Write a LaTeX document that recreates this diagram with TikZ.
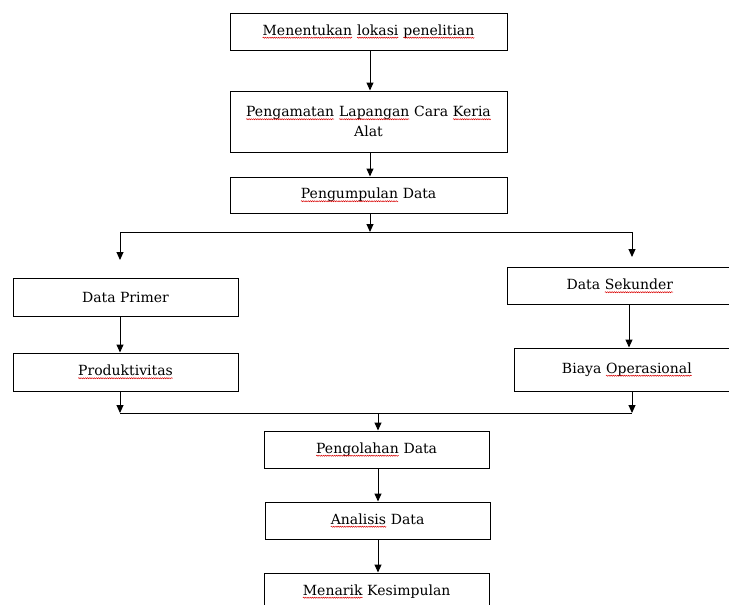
\documentclass[tikz,border=0pt]{standalone}
\usepackage{fontspec}
\setmainfont{DejaVu Serif}
\usetikzlibrary{arrows.meta,decorations.pathmorphing}
\newcommand\squig[1]{\tikz[baseline=(sqw.base)]{\node[draw=none,fill=none,minimum width=0pt,minimum height=0pt,inner sep=0pt,outer sep=0pt,align=left](sqw){#1};\draw[draw=red!85!black,line width=0.5pt,decorate,decoration={snake,amplitude=0.55pt,segment length=2.2pt}]([yshift=-2.6pt]sqw.base west)--([yshift=-2.6pt]sqw.base east);}}
\begin{document}
\begin{tikzpicture}[x=1pt,y=-1pt,
  box/.style={draw=black,line width=1pt,inner sep=0pt,align=center,font=\fontsize{14}{20}\selectfont},
  arr/.style={-{Triangle[length=8pt,width=7pt]},line width=1pt},
  conn/.style={line width=1pt}]
\useasboundingbox (0,0) rectangle (729,605);
\clip (0,0) rectangle (729,605);
\fill[white] (0,0) rectangle (729,605);
% boxes
\node[box,minimum width=277pt,minimum height=37pt] (b1) at (368.5,31.5) {\squig{Menentukan} \squig{lokasi} \squig{penelitian}};
\node[box,minimum width=277pt,minimum height=61pt] (b2) at (368.5,121.5) {\squig{Pengamatan} \squig{Lapangan} Cara \squig{Keria}\\Alat};
\node[box,minimum width=277pt,minimum height=36pt] (b3) at (368.5,195) {\squig{Pengumpulan} Data};
\node[box,minimum width=225pt,minimum height=38pt] (dp) at (125.5,297) {Data Primer};
\node[box,minimum width=225pt,minimum height=38pt] (prod) at (125.5,372) {\squig{Produktivitas}};
\node[box,minimum width=226pt,minimum height=37pt] (ds) at (620,286) {Data \squig{Sekunder}};
\node[box,minimum width=226pt,minimum height=43pt] (bo) at (627,369.5) {Biaya \squig{Operasional}};
\node[box,minimum width=225pt,minimum height=37pt] (po) at (376.5,449.5) {\squig{Pengolahan} Data};
\node[box,minimum width=225pt,minimum height=37pt] (an) at (377.5,520.5) {\squig{Analisis} Data};
\node[box,minimum width=225pt,minimum height=37pt] (mk) at (376.5,591.5) {\squig{Menarik} Kesimpulan};
% coordinates
\coordinate (xc) at (370,0);
\coordinate (xl) at (120,0);
\coordinate (xr) at (632,0);
\coordinate (xr2) at (629,0);
\coordinate (xm) at (378,0);
\coordinate (j1) at (370,232);
\coordinate (jl) at (120,232);
\coordinate (jr) at (632,232);
\coordinate (tl) at (120,260);
\coordinate (tr) at (632,257);
\coordinate (ml) at (120,413);
\coordinate (mr) at (632,413);
\coordinate (mc) at (378,413);
% connectors
\draw[arr] (b1.south -| xc) -- (b2.north -| xc);
\draw[arr] (b2.south -| xc) -- (b3.north -| xc);
\draw[arr] (b3.south -| xc) -- (j1);
\draw[conn] (jl) -- (jr);
\draw[arr] (jl) -- (tl);
\draw[arr] (jr) -- (tr);
\draw[arr] (dp.south -| xl) -- (prod.north -| xl);
\draw[arr] (ds.south -| xr2) -- (bo.north -| xr2);
\draw[arr] (prod.south -| xl) -- (ml);
\draw[arr] (bo.south -| xr) -- (mr);
\draw[conn] (ml) -- (mr);
\draw[arr] (mc) -- (po.north -| xm);
\draw[arr] (po.south -| xm) -- (an.north -| xm);
\draw[arr] (an.south -| xm) -- (mk.north -| xm);
\end{tikzpicture}
\end{document}
